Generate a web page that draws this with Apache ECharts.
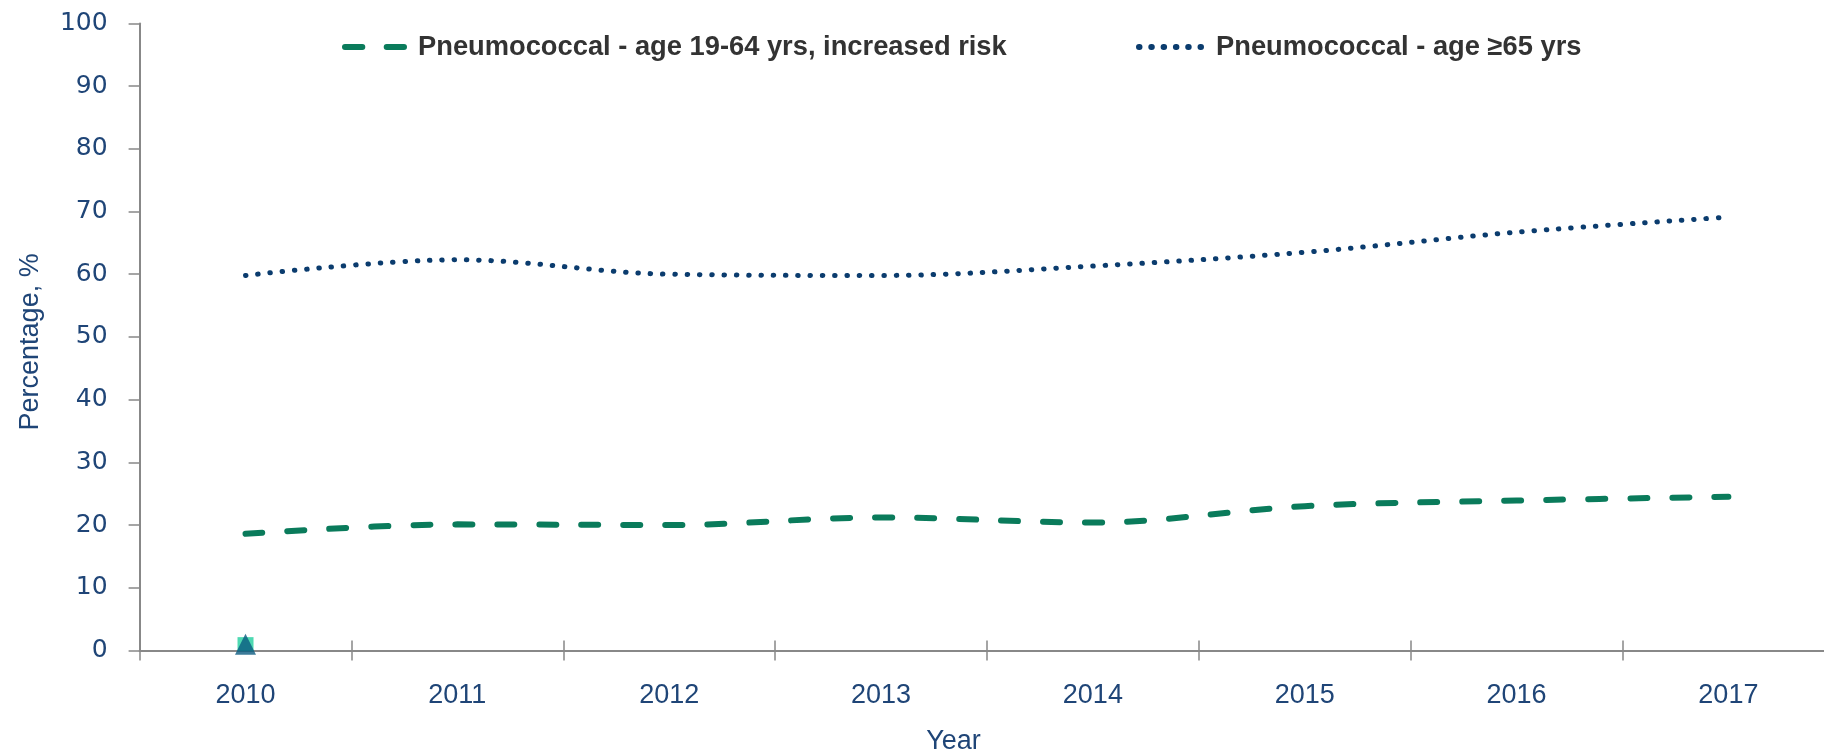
<!DOCTYPE html>
<html>
<head>
<meta charset="utf-8">
<script src="https://cdn.jsdelivr.net/npm/echarts@6/dist/echarts.min.js"></script>
<style>
html,body{margin:0;padding:0;background:#fff;}
#chart{width:1824px;height:753px;}
</style>
</head>
<body>
<div id="chart"></div>
<script>
const years = ['2010','2011','2012','2013','2014','2015','2016','2017'];
const seriesNames = ['Pneumococcal - age 19-64 yrs, increased risk', 'Pneumococcal - age \u226565 yrs'];
const risk1964 = [18.6, 20.1, 20.0, 21.2, 20.4, 23.0, 23.9, 24.5];
const age65 = [59.8, 62.3, 60.0, 59.8, 61.3, 63.5, 66.7, 69.1];
const squareMarker = [1, null, null, null, null, null, null, null];
const triangleMarker = [1, null, null, null, null, null, null, null];
const yTicks = [0, 100, 10];

const AX = '#888888';
const TXT = '#1f4577';
const GREEN = '#0a7b5b';
const BLUE = '#0b3c6e';

const chart = echarts.init(document.getElementById('chart'), null, {renderer:'canvas'});
const legendText = {fontFamily:'Liberation Sans', fontWeight:'bold', fontSize:27.3, color:'#333333', lineHeight:30};
chart.setOption({
  animation:false,
  backgroundColor:'#ffffff',
  grid:{left:139.6, right:-10.3, top:23.4, bottom:102.6, containLabel:false, outerBoundsMode:'none'},
  legend:[
    {data:[seriesNames[0]], left:337, top:27, padding:5, itemWidth:59, itemHeight:14, selectedMode:false,
     textStyle:Object.assign({padding:[0,0,0,9]}, legendText),
     itemStyle:{opacity:0},
     lineStyle:{type:[17.3,24.4], width:6, cap:'round', color:GREEN}},
    {data:[seriesNames[1]], left:1131, top:27, padding:5, itemWidth:66, itemHeight:14, selectedMode:false,
     textStyle:Object.assign({padding:[0,0,0,6]}, legendText),
     itemStyle:{opacity:0},
     lineStyle:{type:[0.5,11.8], width:6, cap:'round', color:BLUE}}
  ],
  xAxis:[
    {type:'category', data:years, boundaryGap:true, position:'bottom',
     name:'Year', nameLocation:'middle', nameGap:78,
     nameTextStyle:{fontFamily:'Liberation Sans', fontSize:27, color:TXT, padding:[0,67,0,0]},
     axisLine:{show:true, lineStyle:{color:AX, width:2}},
     axisTick:{show:true, inside:false, length:10, lineStyle:{color:AX, width:1.5}},
     axisLabel:{show:true, margin:32, fontFamily:'Liberation Sans', fontSize:27, color:TXT},
     splitLine:{show:false}},
    {type:'category', data:years, boundaryGap:true, position:'bottom', gridIndex:0,
     axisLine:{show:false}, axisLabel:{show:false},
     axisTick:{show:true, inside:true, length:10, lineStyle:{color:AX, width:1.5}},
     splitLine:{show:false}}
  ],
  yAxis:{type:'value', min:yTicks[0], max:yTicks[1], interval:yTicks[2],
     name:'Percentage, %', nameLocation:'middle', nameGap:96, nameRotate:90,
     nameTextStyle:{fontFamily:'Liberation Sans', fontSize:27, color:TXT, padding:[0,10,0,0]},
     axisLine:{show:true, lineStyle:{color:AX, width:2}},
     axisTick:{show:true, inside:false, length:11, lineStyle:{color:AX, width:1.5}},
     axisLabel:{margin:32, fontFamily:'DejaVu Sans', fontSize:25, color:TXT},
     splitLine:{show:false}},
  series:[
    {name:seriesNames[0], type:'line', data:risk1964, smooth:0.35, symbol:'none',
     lineStyle:{color:GREEN, width:6, type:[17,25], cap:'round'}, itemStyle:{color:GREEN}, z:3},
    {name:seriesNames[1], type:'line', data:age65, smooth:0.35, symbol:'none',
     lineStyle:{color:BLUE, width:5, type:[0.5,11.8], cap:'round'}, itemStyle:{color:BLUE}, z:3},
    {name:'marker-square', type:'scatter', data:squareMarker, symbol:'rect', symbolSize:[16,14],
     itemStyle:{color:'#22d09f'}, z:4},
    {name:'marker-triangle', type:'scatter', data:triangleMarker, symbol:'triangle', symbolSize:[21,21],
     itemStyle:{color:'#0a5a80'}, z:5}
  ]
});
</script>
</body>
</html>
